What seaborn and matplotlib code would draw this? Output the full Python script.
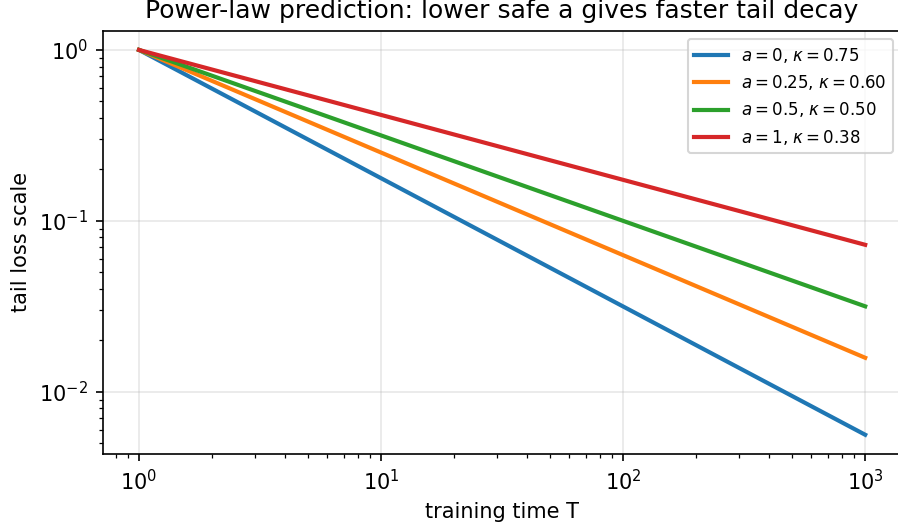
import matplotlib
matplotlib.use("Agg")
import matplotlib.pyplot as plt
import seaborn as sns
import pandas as pd

T = [1, 1000]
y_a0 = [1.0, 0.0056]
y_a025 = [1.0, 0.0158]
y_a05 = [1.0, 0.0316]
y_a1 = [1.0, 0.0724]
labels = [r"$a=0$, $\kappa=0.75$", r"$a=0.25$, $\kappa=0.60$",
          r"$a=0.5$, $\kappa=0.50$", r"$a=1$, $\kappa=0.38$"]

rows = []
for lab, ys in zip(labels, [y_a0, y_a025, y_a05, y_a1]):
    for t, y in zip(T, ys):
        rows.append({"T": t, "y": y, "series": lab})
df = pd.DataFrame(rows)

plt.rcParams["font.family"] = ["DejaVu Sans"]
plt.rcParams["mathtext.fontset"] = "dejavusans"

fig = plt.figure(figsize=(898/150, 526/150), dpi=150)
ax = fig.add_axes([0.1144, 0.1369, 0.8895, 0.8047])
sns.lineplot(data=df, x="T", y="y", hue="series", palette="tab10",
             linewidth=2, ax=ax)
ax.set_xscale("log")
ax.set_yscale("log")
ax.grid(True, which="major", alpha=0.3)
ax.set_xlabel("training time T")
ax.set_ylabel("tail loss scale")
ax.set_title("Power-law prediction: lower safe a gives faster tail decay")
leg = ax.legend(loc="upper right", fontsize=8)
leg.set_title(None)
fig.savefig("out.png", dpi=150)
